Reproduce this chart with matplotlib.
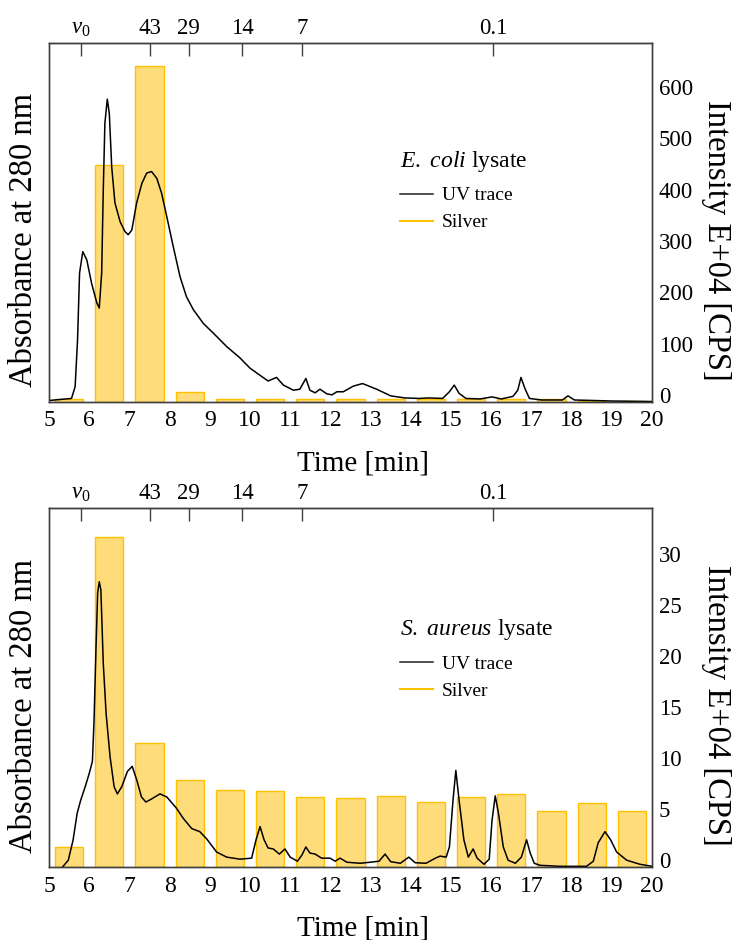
import matplotlib
matplotlib.use("Agg")
import matplotlib.pyplot as plt
from matplotlib.lines import Line2D
from matplotlib.transforms import ScaledTranslation

plt.rcParams['font.family'] = ['Liberation Serif', 'DejaVu Serif']
plt.rcParams['mathtext.fontset'] = 'custom'
plt.rcParams['mathtext.rm'] = 'Liberation Serif'
plt.rcParams['mathtext.it'] = 'Liberation Serif:italic'

# fraction centres (min) and marker positions on the top axis
bar_time = [5.5, 6.5, 7.5, 8.5, 9.5, 10.5, 11.5, 12.5, 13.5, 14.5, 15.5, 16.5, 17.5, 18.5, 19.5]
marker_time = [5.8, 7.51, 8.47, 9.81, 11.29, 16.04]
marker_label = [r'$\mathit{v_0}$', '43', '29', '14', '7', '0.1']

# E. coli lysate
ecoli_silver = [6, 461, 654, 20, 6, 6, 6, 6, 6, 5, 6, 6, 6, 2, 2]
ecoli_uv_t = [5.0, 5.56, 5.65, 5.71, 5.76, 5.84, 5.94, 6.06, 6.19, 6.25, 6.31, 6.35, 6.39,
              6.45, 6.5, 6.56, 6.64, 6.77, 6.89, 6.97, 7.06, 7.18, 7.31, 7.43, 7.55, 7.68,
              7.8, 7.93, 8.09, 8.26, 8.42, 8.59, 8.84, 9.09, 9.42, 9.75, 10.0, 10.25, 10.45,
              10.66, 10.83, 11.08, 11.24, 11.39, 11.49, 11.62, 11.74, 11.91, 12.04, 12.16,
              12.32, 12.57, 12.8, 13.15, 13.5, 13.85, 14.2, 14.44, 14.79, 14.96, 15.08,
              15.2, 15.37, 15.72, 16.02, 16.25, 16.54, 16.66, 16.74, 16.84, 16.95, 17.25,
              17.77, 17.91, 18.07, 19.0, 20.0]
ecoli_uv = [3, 7, 30, 121, 251, 293, 277, 231, 193, 183, 251, 413, 543,
            590, 562, 458, 388, 351, 332, 326, 335, 388, 426, 446, 449, 436,
            407, 361, 303, 244, 205, 180, 153, 134, 108, 86, 66, 52, 41,
            48, 33, 23, 25, 46, 23, 18, 25, 16, 14, 20,
            20, 31, 36, 25, 12, 8, 7, 8, 7, 20, 33,
            17, 7, 6, 10, 6, 11, 23, 48, 26, 7, 4,
            4, 12, 4, 2, 1]

# S. aureus lysate
saureus_silver = [2.0, 32.4, 12.2, 8.6, 7.6, 7.5, 6.9, 6.8, 7.0, 6.4, 6.9, 7.2, 5.5, 6.3, 5.5]
saureus_uv_t = [5.33, 5.48, 5.6, 5.7, 5.79, 5.9, 6.0, 6.08, 6.12, 6.17, 6.21, 6.25, 6.29,
                6.35, 6.42, 6.52, 6.62, 6.7, 6.81, 6.95, 7.07, 7.18, 7.3, 7.41, 7.55, 7.76,
                7.93, 8.17, 8.34, 8.55, 8.75, 8.92, 9.17, 9.42, 9.75, 10.04, 10.15, 10.25,
                10.35, 10.45, 10.58, 10.73, 10.87, 11.0, 11.18, 11.29, 11.39, 11.49, 11.62,
                11.78, 11.99, 12.12, 12.24, 12.41, 12.74, 12.99, 13.21, 13.36, 13.5, 13.74,
                13.95, 14.11, 14.38, 14.61, 14.73, 14.88, 14.96, 15.05, 15.12, 15.2, 15.32,
                15.43, 15.55, 15.65, 15.82, 15.95, 16.02, 16.1, 16.18, 16.3, 16.42, 16.6,
                16.75, 16.88, 16.97, 17.07, 17.21, 17.7, 18.37, 18.54, 18.66, 18.83, 18.97,
                19.12, 19.37, 19.7, 20.0]
saureus_uv = [0.0, 0.7, 2.7, 5.3, 6.6, 7.9, 9.2, 10.4, 14.4, 21.6, 26.9, 28.0, 27.2,
              20.0, 15.1, 10.8, 7.9, 7.2, 7.9, 9.4, 9.9, 8.6, 6.9, 6.4, 6.7, 7.2,
              6.9, 5.8, 4.8, 3.8, 3.5, 2.8, 1.5, 1.0, 0.8, 0.9, 2.7, 4.0,
              2.7, 1.9, 1.8, 1.3, 1.8, 1.0, 0.6, 1.2, 2.0, 1.4, 1.3,
              0.9, 0.9, 0.6, 0.9, 0.5, 0.4, 0.5, 0.6, 1.3, 0.55, 0.4,
              1.0, 0.45, 0.4, 0.9, 1.1, 1.0, 2.0, 6.6, 9.5, 6.6, 2.7,
              1.0, 1.8, 0.9, 0.3, 0.8, 4.6, 7.0, 5.3, 2.0, 0.7, 0.4,
              1.0, 2.7, 1.4, 0.4, 0.2, 0.1, 0.1, 0.6, 2.4, 3.5, 2.7,
              1.5, 0.7, 0.3, 0.1]

SPINE = '#404040'
GOLD = '#FFC000'
FILL = '#FFDC7A'


def draw_panel(fig, rect, uv_t, uv, silver, ymax, yticks, species, title_y, leg_y):
    ax = fig.add_axes(rect)
    ax2 = ax.twinx()
    # UV trace above the bars
    ax.set_zorder(ax2.get_zorder() + 1)
    ax.patch.set_visible(False)

    ax2.bar(bar_time, silver, width=0.7, color=FILL, edgecolor=GOLD, linewidth=1)
    ax.plot(uv_t, uv, color='black', lw=1.1, solid_joinstyle='round')

    for a in (ax, ax2):
        a.set_xlim(5, 20)
        a.set_ylim(0, ymax)
        for s in a.spines.values():
            s.set_color(SPINE)
            s.set_linewidth(1.0)

    ax.set_yticks([])
    ax.set_xticks(range(5, 21))
    ax.tick_params(axis='x', length=0, labelsize=17, pad=6)
    ax2.set_yticks(yticks)
    ax2.tick_params(axis='y', length=0, labelsize=16.5, pad=5)
    shift = ScaledTranslation(0, 0.07, fig.dpi_scale_trans)
    for t in ax2.yaxis.get_major_ticks():
        t.label2.set_transform(t.label2.get_transform() + shift)

    sec = ax.secondary_xaxis('top')
    sec.set_xticks(marker_time, marker_label)
    sec.tick_params(direction='in', length=9, width=1, color=SPINE, labelsize=16.5, pad=3)
    sec.spines['top'].set_color(SPINE)

    ax.set_xlabel('Time [min]', fontsize=21)
    ax.xaxis.set_label_coords(0.52, -0.135)
    ax.set_ylabel('Absorbance at 280 nm', fontsize=23.5)
    ax.yaxis.set_label_coords(-0.016, 0.45)
    ax2.set_ylabel('Intensity E+04 [CPS]', fontsize=23.5, rotation=270, va='bottom')
    ax2.yaxis.set_label_coords(1.082, 0.45)

    ax.text(0.582, title_y, species, transform=ax.transAxes, fontsize=17,
            ha='left', va='center')
    handles = [Line2D([], [], color='#202020', lw=1.1), Line2D([], [], color=GOLD, lw=1.5)]
    ax.legend(handles, ['UV trace', 'Silver'], loc='upper left',
              bbox_to_anchor=(0.582, leg_y), frameon=False, fontsize=14,
              handlelength=1.7, handletextpad=0.45, labelspacing=0.48,
              borderpad=0, borderaxespad=0)
    return ax, ax2


fig = plt.figure(figsize=(7.38, 9.40), dpi=100)
draw_panel(fig, [0.0664, 0.5723, 0.8171, 0.3823], ecoli_uv_t, ecoli_uv, ecoli_silver,
           700, [0, 100, 200, 300, 400, 500, 600], r'$\mathit{E.\ coli}$ lysate',
           0.668, 0.599)
draw_panel(fig, [0.0664, 0.0773, 0.8171, 0.3820], saureus_uv_t, saureus_uv, saureus_silver,
           35.2, [0, 5, 10, 15, 20, 25, 30], r'$\mathit{S.\ aureus}$ lysate',
           0.661, 0.591)
fig.savefig('out.png', dpi=100)
